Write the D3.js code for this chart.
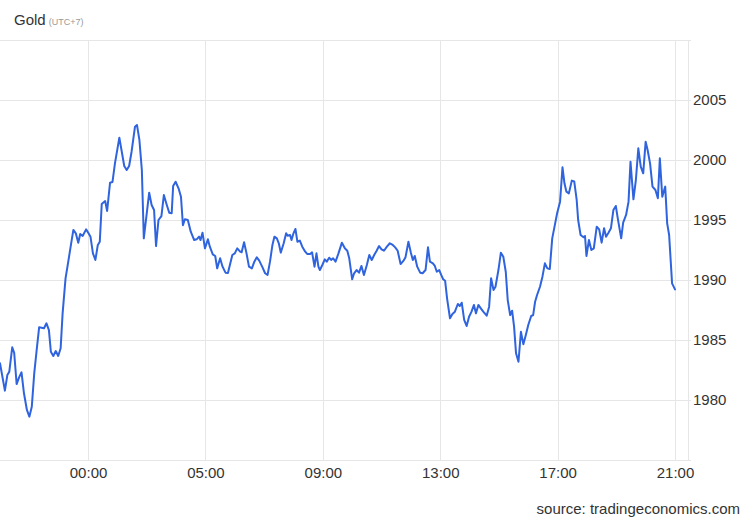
<!DOCTYPE html>
<html>
<head>
<meta charset="utf-8">
<script src="https://cdn.jsdelivr.net/npm/d3@7"></script>
<style>
  html, body { margin: 0; padding: 0; background: #fff; }
  svg { display: block; font-family: "Liberation Sans", Arial, sans-serif; }
</style>
</head>
<body>
<svg id="chart" width="750" height="520"></svg>
<script>
// Trading minutes since 21:00 (UTC+7) of the previous day (one-hour daily break removed)
const minutes = [
  0,10,15,19,25,29,34,39,44,49,55,60,65,70,75,80,85,90,95,100,
  104,109,114,119,124,128,134,139,145,150,155,160,164,169,176,181,185,190,195,200,
  204,208,215,219,225,230,235,244,254,259,264,269,276,280,285,290,294,305,310,315,
  319,324,330,335,341,346,351,354,359,365,370,374,378,384,390,397,402,407,410,414,
  419,425,429,435,440,444,450,455,461,466,470,475,480,485,491,494,499,504,509,515,
  520,525,530,536,542,547,552,557,561,566,570,574,580,585,588,593,596,600,604,608,
  613,618,624,628,634,638,643,647,651,654,659,664,668,673,677,681,686,692,699,705,
  710,714,720,724,729,734,739,744,750,755,760,765,770,775,780,785,791,797,803,808,
  813,819,825,829,835,840,844,848,853,859,864,870,875,879,885,889,893,898,902,906,
  910,914,920,925,930,936,940,944,949,954,959,964,969,973,978,983,988,995,1000,1004,
  1009,1013,1019,1024,1029,1034,1038,1043,1047,1051,1055,1060,1065,1070,1075,1080,1086,1090,1094,1098,
  1104,1109,1114,1119,1124,1129,1135,1139,1145,1150,1154,1158,1163,1169,1174,1179,1182,1187,1193,1196,
  1199,1204,1209,1214,1220,1225,1230,1235,1239,1244,1249,1254,1259,1263,1270,1274,1280,1285,1289,1295,
  1300,1305,1310,1315,1320,1324,1329,1334,1340,1345,1349,1354,1360,1364,1368,1374,1380
];
const prices = [
  1983.06,1980.78,1982.08,1982.36,1984.39,1983.94,1981.33,1981.89,1982.31,1980.56,
  1979.17,1978.61,1979.44,1982.22,1984.17,1986.06,1986.02,1985.98,1986.39,1985.83,
  1984.02,1983.67,1984.08,1983.67,1984.31,1987.22,1990.14,1991.39,1992.92,1994.17,
  1993.89,1993.11,1993.83,1993.67,1994.22,1993.89,1993.61,1992.22,1991.67,1992.92,
  1993.19,1996.33,1996.58,1995.75,1998.11,1998.17,1999.72,2001.86,1999.50,1999.17,
  1999.50,2000.69,2002.78,2002.92,2001.67,1999.17,1993.47,1997.28,1996.25,1995.83,
  1992.83,1995.00,1995.33,1997.08,1996.25,1995.61,1995.56,1997.83,1998.19,1997.64,
  1996.94,1994.56,1995.06,1995.00,1994.03,1993.33,1993.39,1993.61,1993.33,1993.94,
  1992.64,1993.39,1992.78,1992.14,1992.00,1990.97,1991.81,1991.11,1990.61,1990.58,
  1991.25,1992.08,1992.22,1992.64,1992.36,1992.31,1993.14,1992.22,1991.11,1990.97,
  1991.53,1991.89,1991.61,1991.11,1990.56,1990.42,1991.53,1992.92,1993.61,1993.47,
  1993.06,1992.28,1993.06,1993.89,1993.69,1993.75,1993.33,1993.89,1994.25,1993.19,
  1993.28,1992.78,1992.36,1992.17,1992.17,1992.31,1991.11,1992.22,1991.11,1990.83,
  1991.25,1991.72,1991.53,1991.86,1991.67,1991.81,1991.53,1992.22,1993.11,1992.64,
  1992.44,1991.81,1990.06,1990.56,1990.83,1990.61,1991.17,1990.42,1991.25,1992.08,
  1991.67,1992.08,1992.44,1992.83,1992.56,1992.44,1992.78,1993.06,1992.92,1992.72,
  1992.44,1991.33,1991.61,1991.89,1993.19,1992.28,1991.67,1992.00,1991.11,1990.61,
  1990.56,1990.83,1992.72,1991.53,1991.39,1991.17,1990.69,1990.83,1990.42,1990.06,
  1989.94,1988.47,1986.81,1987.17,1987.36,1988.00,1987.83,1988.11,1986.67,1986.17,
  1986.94,1987.36,1987.92,1987.22,1987.92,1987.64,1987.36,1987.03,1987.78,1990.14,
  1989.17,1989.44,1990.83,1992.28,1991.94,1990.69,1988.33,1987.08,1987.44,1986.11,
  1983.89,1983.19,1985.69,1984.64,1985.42,1986.25,1987.00,1987.08,1988.19,1988.75,
  1989.44,1990.28,1991.39,1990.97,1990.92,1993.47,1994.72,1995.56,1996.53,1999.39,
  1998.06,1997.36,1997.22,1998.28,1998.21,1996.67,1995.00,1993.75,1993.56,1993.67,
  1992.00,1993.33,1992.50,1992.64,1994.44,1994.22,1993.11,1994.31,1993.61,1993.94,
  1994.31,1995.83,1996.17,1995.14,1993.47,1994.78,1995.42,1996.53,1999.86,1996.72,
  1998.33,2000.97,1999.44,1998.89,2001.53,2000.83,1999.72,1997.78,1997.50,1996.81,
  2000.14,1996.94,1997.78,1994.72,1993.75,1989.72,1989.22
];
const xTickMinutes = [180, 420, 660, 900, 1140, 1380];
const xTickLabels = ["00:00", "05:00", "09:00", "13:00", "17:00", "21:00"];
const yGridValues = [1975, 1980, 1985, 1990, 1995, 2000, 2005, 2010];
const yTickValues = [1980, 1985, 1990, 1995, 2000, 2005];
const titleText = "Gold";
const subtitleText = "(UTC+7)";
const sourceText = "source: tradingeconomics.com";

const svg = d3.select("#chart");
const plotLeft = 0, plotRight = 688, plotTop = 40, plotBottom = 460;

const x = d3.scaleLinear().domain([0, 1380]).range([0, 675]);
const y = d3.scaleLinear().domain([1975, 2010]).range([plotBottom, plotTop]);

const gridColor = "#e6e6e6";

// horizontal gridlines
svg.append("g")
  .selectAll("line")
  .data(yGridValues)
  .join("line")
  .attr("x1", plotLeft).attr("x2", 691)
  .attr("y1", d => Math.round(y(d)) + 0.5).attr("y2", d => Math.round(y(d)) + 0.5)
  .attr("stroke", gridColor).attr("stroke-width", 1);

// vertical gridlines
svg.append("g")
  .selectAll("line")
  .data(xTickMinutes)
  .join("line")
  .attr("x1", d => Math.round(x(d)) + 0.5).attr("x2", d => Math.round(x(d)) + 0.5)
  .attr("y1", plotTop).attr("y2", plotBottom)
  .attr("stroke", gridColor).attr("stroke-width", 1);

// right border
svg.append("line")
  .attr("x1", plotRight + 0.5).attr("x2", plotRight + 0.5)
  .attr("y1", plotTop).attr("y2", plotBottom)
  .attr("stroke", gridColor).attr("stroke-width", 1);

// x axis labels
const xAxis = d3.axisBottom(x)
  .tickValues(xTickMinutes)
  .tickFormat((d, i) => xTickLabels[i])
  .tickSize(0)
  .tickPadding(0);
const gx = svg.append("g").attr("transform", `translate(0,${plotBottom})`).call(xAxis);
gx.select(".domain").remove();
gx.selectAll("text")
  .attr("dy", null)
  .attr("y", 18)
  .style("font-size", "15px")
  .style("font-family", "'Liberation Sans', Arial, sans-serif")
  .attr("fill", "#333");

// y axis labels (right)
const yAxis = d3.axisRight(y)
  .tickValues(yTickValues)
  .tickFormat(d3.format("d"))
  .tickSize(0)
  .tickPadding(0);
const gy = svg.append("g").attr("transform", `translate(693,0)`).call(yAxis);
gy.select(".domain").remove();
gy.selectAll("text")
  .attr("x", 0)
  .style("font-size", "15px")
  .style("font-family", "'Liberation Sans', Arial, sans-serif")
  .attr("fill", "#333");

// price line
const line = d3.line()
  .x((d, i) => x(minutes[i]))
  .y(d => y(d))
  .curve(d3.curveLinear);

svg.append("path")
  .datum(prices)
  .attr("fill", "none")
  .attr("stroke", "#2f64de")
  .attr("stroke-width", 2)
  .attr("stroke-linejoin", "round")
  .attr("stroke-linecap", "round")
  .attr("d", line);

// title
const title = svg.append("text")
  .attr("x", 14).attr("y", 25)
  .style("font-size", "15px")
  .attr("fill", "#333");
title.append("tspan").text(titleText);
title.append("tspan").attr("dx", 3)
  .style("font-size", "9px").attr("fill", "#999").text(subtitleText);

// source
svg.append("text")
  .attr("x", 740).attr("y", 514)
  .attr("text-anchor", "end")
  .style("font-size", "15px")
  .attr("fill", "#333")
  .text(sourceText);
</script>
</body>
</html>
